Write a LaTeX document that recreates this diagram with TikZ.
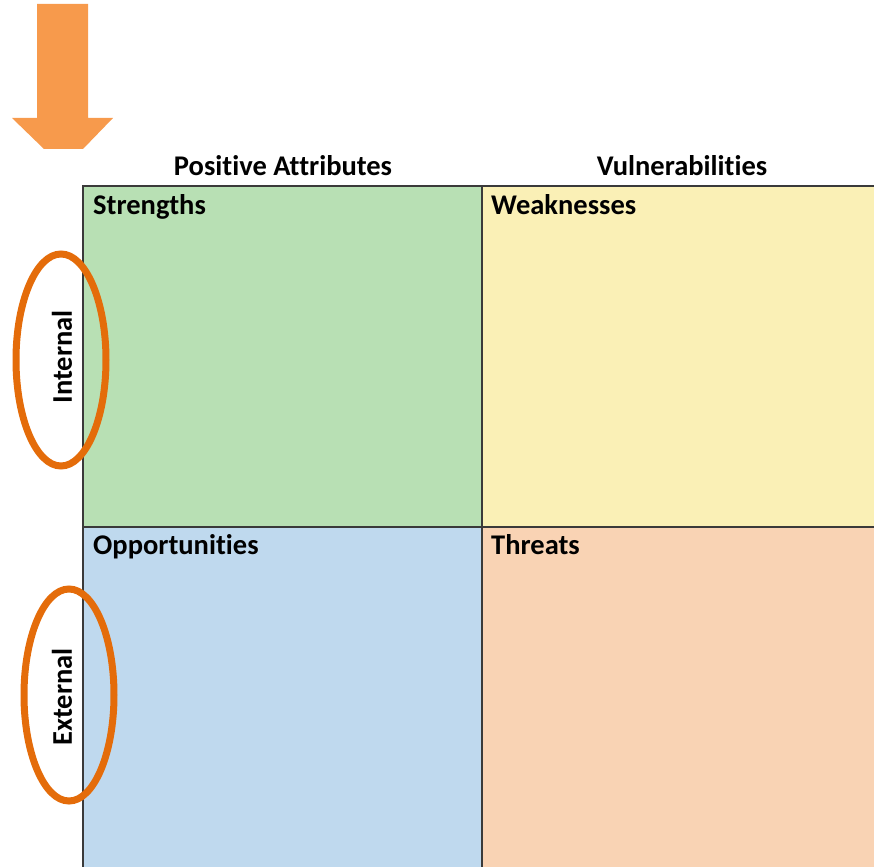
\documentclass[tikz,border=0pt]{standalone}
\usepackage{fontspec}
\setmainfont[Ligatures=NoCommon]{Carlito}
\usetikzlibrary{shapes.geometric}
\definecolor{sgreen}{HTML}{B8E0B4}
\definecolor{syellow}{HTML}{FAF0B6}
\definecolor{sblue}{HTML}{BFD9EE}
\definecolor{speach}{HTML}{F9D3B4}
\definecolor{arroworange}{HTML}{F79A4C}
\definecolor{ringorange}{HTML}{E46C0A}
\definecolor{gridline}{HTML}{3A3A3A}
\tikzset{
  cell/.style={draw=gridline, line width=1.3pt},
  head/.style={font=\fontsize{28.5}{32}\selectfont\bfseries, inner sep=0pt, anchor=base},
  celltitle/.style={font=\fontsize{28.5}{32}\selectfont\bfseries, inner sep=0pt, anchor=base west},
  sidelabel/.style={font=\fontsize{28.5}{32}\selectfont\bfseries, inner sep=0pt, rotate=90},
  ring/.style={draw=ringorange, line width=7pt, ellipse, minimum width=90pt, minimum height=212pt, inner sep=0pt}
}
\begin{document}
\begin{tikzpicture}[x=1pt,y=-1pt]
\useasboundingbox (0,0) rectangle (874,866);
% big arrow
\fill[arroworange] (37,4) -- (88,4) -- (88,118) -- (113,118) -- (83,149) -- (44,149) -- (12,118) -- (37,118) -- cycle;
% cells
\fill[sgreen] (83,186) rectangle (482,527);
\fill[syellow] (482,186) rectangle (880,527);
\fill[sblue] (83,527) rectangle (482,870);
\fill[speach] (482,527) rectangle (880,870);
\draw[cell] (83,870) -- (83,186) -- (880,186);
\draw[cell] (482,186) -- (482,870);
\draw[cell] (83,527) -- (880,527);
% headers
\node[head] (hpos) at (283,175.5) {Positive Attributes};
\node[head] (hvul) at (682,175.5) {Vulnerabilities};
% cell titles
\node[celltitle] (s) at (93,214.5) {Strengths};
\node[celltitle] (w) at (491,214.5) {Weaknesses};
\node[celltitle] (o) at (93,554.5) {Opportunities};
\node[celltitle] (t) at (491,554.5) {Threats};
% side labels
\node[sidelabel] (int) at (62,357) {Internal};
\node[sidelabel] (ext) at (62,697) {External};
\node[ring] (r1) at (61,360) {};
\node[ring] (r2) at (69,695) {};
\end{tikzpicture}
\end{document}
